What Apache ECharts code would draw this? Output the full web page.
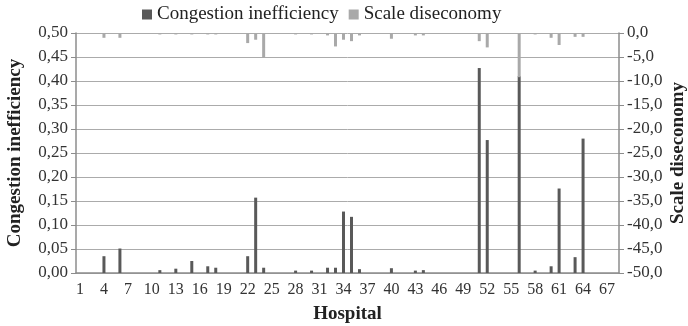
<!DOCTYPE html>
<html>
<head>
<meta charset="utf-8">
<script src="https://cdn.jsdelivr.net/npm/echarts@6/dist/echarts.min.js"></script>
<style>
  html, body { margin: 0; padding: 0; background: #fff; }
  #chart { width: 688px; height: 326px; }
</style>
</head>
<body>
<div id="chart"></div>
<script>
// hospitals 1..68 (68th unlabelled)
const hospitals = []
for (let i = 1; i <= 68; i++) hospitals.push(String(i))

// non-zero readings, keyed by hospital number
const congestionHosp = [4, 6, 11, 13, 15, 17, 18, 22, 23, 24, 28, 30, 32, 33, 34, 35, 36, 40, 43, 44, 51, 52, 56, 58, 60, 61, 63, 64]
const congestionVals = [0.035, 0.051, 0.006, 0.009, 0.025, 0.014, 0.011, 0.035, 0.157, 0.011, 0.005, 0.005, 0.011, 0.011, 0.128, 0.117, 0.008, 0.010, 0.005, 0.006, 0.427, 0.277, 0.410, 0.005, 0.014, 0.176, 0.033, 0.280]

const scaleHosp = [4, 6, 11, 13, 15, 17, 18, 22, 23, 24, 28, 30, 32, 33, 34, 35, 36, 40, 43, 44, 51, 52, 56, 58, 60, 61, 63, 64]
const scaleVals = [-1.0, -1.0, -0.3, -0.3, -0.3, -0.3, -0.3, -2.1, -1.4, -5.2, -0.3, -0.3, -0.5, -2.8, -1.4, -1.7, -0.5, -1.2, -0.5, -0.5, -1.7, -3.0, -9.2, -0.3, -1.0, -2.5, -0.8, -0.8]

const congestion = hospitals.map(() => 0)
congestionHosp.forEach((h, i) => { congestion[h - 1] = congestionVals[i] })
const scale = hospitals.map(() => 0)
scaleHosp.forEach((h, i) => { scale[h - 1] = scaleVals[i] })

const chart = echarts.init(document.getElementById('chart'), null, { renderer: 'canvas' })

const axisGray = '#8c8c8c'
const font = 'Liberation Serif'
const titleStyle = { fontFamily: font, fontSize: 19, fontWeight: 'bold', color: '#222' }

const option = {
  animation: false,
  textStyle: { fontFamily: font },
  legend: {
    top: 0,
    left: 137,
    itemWidth: 10,
    itemHeight: 10,
    itemGap: 10,
    icon: 'rect',
    textStyle: { fontFamily: font, fontSize: 19, color: '#222' },
    data: ['Congestion inefficiency', 'Scale diseconomy']
  },
  grid: { left: 76, right: 69, top: 33, bottom: 53, outerBoundsMode: 'none', containLabel: false },
  xAxis: {
    type: 'category',
    data: hospitals,
    name: 'Hospital',
    nameLocation: 'middle',
    nameGap: 32,
    nameTextStyle: titleStyle,
    axisLine: { lineStyle: { color: axisGray, width: 1.5 } },
    axisTick: { interval: 0, length: 4, lineStyle: { color: axisGray } },
    axisLabel: { interval: 2, fontFamily: font, fontSize: 16, color: '#333', margin: 9 }
  },
  yAxis: [
    {
      type: 'value',
      min: 0,
      max: 0.5,
      interval: 0.05,
      name: 'Congestion inefficiency',
      nameLocation: 'middle',
      nameRotate: 90,
      nameGap: 51,
      nameTextStyle: titleStyle,
      axisLine: { show: true, lineStyle: { color: axisGray, width: 1.5 } },
      axisTick: { show: true, length: 5, lineStyle: { color: axisGray } },
      axisLabel: {
        fontFamily: font, fontSize: 17, color: '#333', margin: 8,
        formatter: v => v.toFixed(2).replace('.', ',')
      },
      splitLine: { lineStyle: { color: '#ababab', width: 1 } }
    },
    {
      type: 'value',
      min: -50,
      max: 0,
      interval: 5,
      name: 'Scale diseconomy',
      nameLocation: 'middle',
      nameRotate: 90,
      nameGap: 50,
      nameMoveOverlap: false,
      nameTextStyle: titleStyle,
      axisLine: { show: true, lineStyle: { color: axisGray, width: 1.5 } },
      axisTick: { show: true, length: 5, lineStyle: { color: axisGray } },
      axisLabel: {
        fontFamily: font, fontSize: 17, color: '#333', margin: 8,
        formatter: v => v.toFixed(1).replace('.', ',')
      },
      splitLine: { show: false }
    }
  ],
  series: [
    {
      name: 'Congestion inefficiency',
      type: 'bar',
      yAxisIndex: 0,
      data: congestion,
      barWidth: 3,
      barGap: '-100%',
      itemStyle: { color: '#595959' }
    },
    {
      name: 'Scale diseconomy',
      type: 'bar',
      yAxisIndex: 1,
      data: scale,
      barWidth: 3,
      itemStyle: { color: '#a9a9a9' }
    }
  ]
}

chart.setOption(option)
</script>
</body>
</html>
